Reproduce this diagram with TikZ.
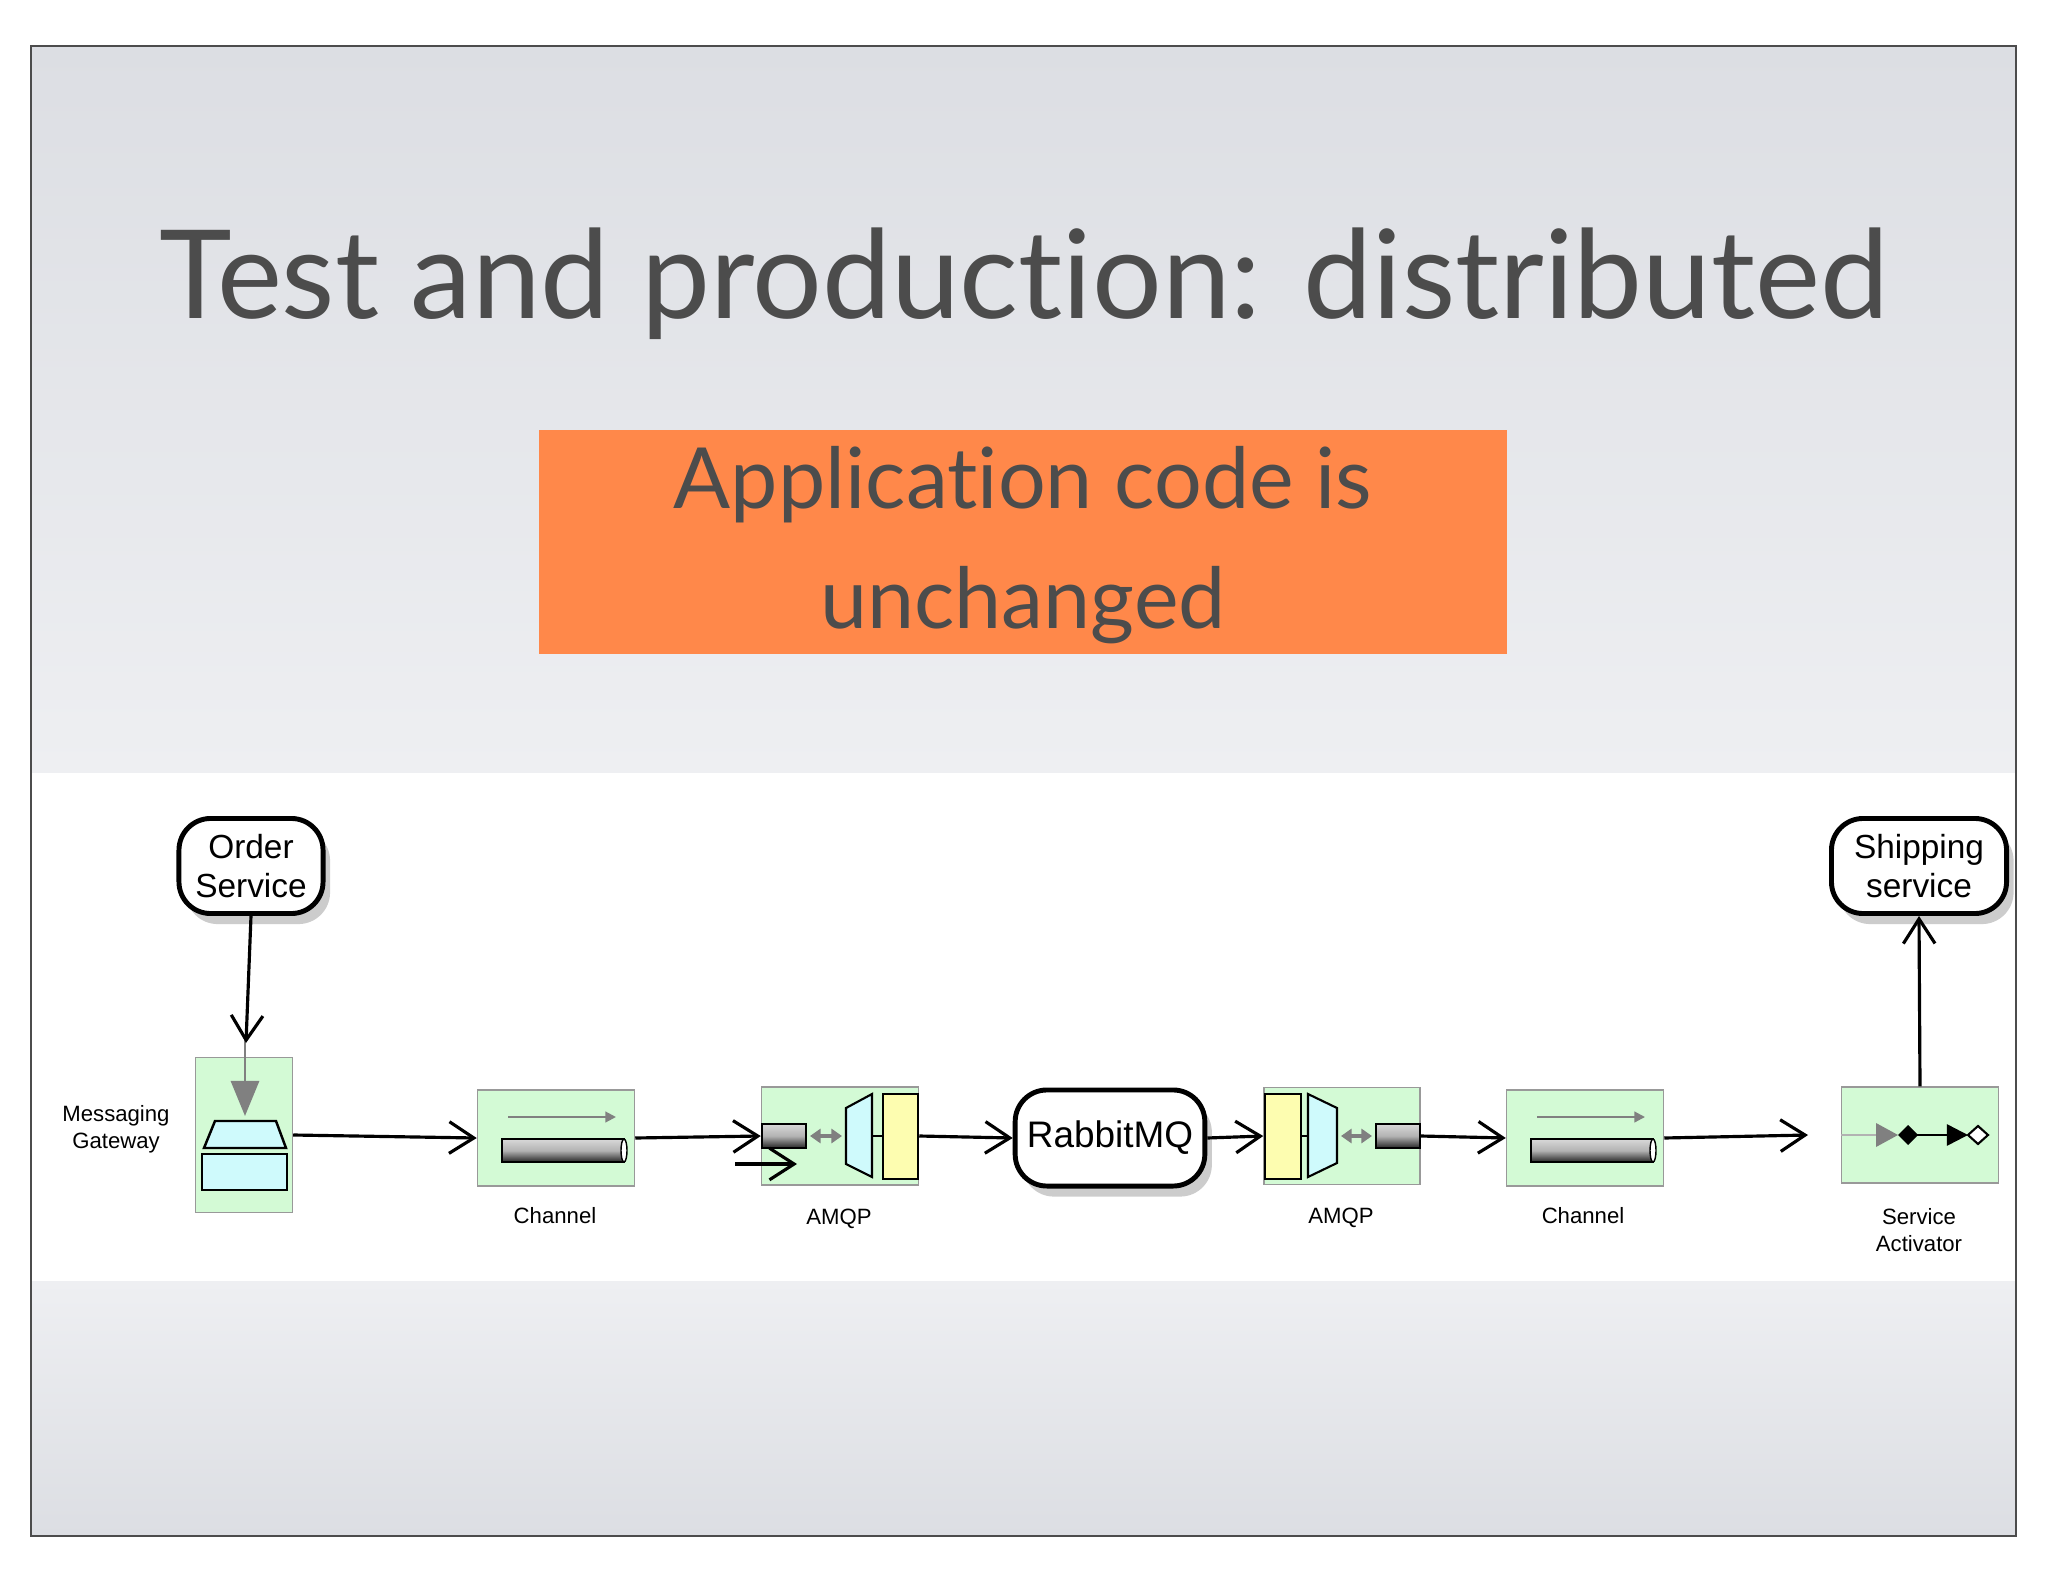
\documentclass[tikz,border=0pt]{standalone}
\usepackage{fontspec}
\setmainfont{Liberation Sans}
\newfontfamily\titlef[Ligatures={NoCommon,NoDiscretionary,NoRare}]{Lato}
\usetikzlibrary{arrows.meta,shadows,shapes.geometric}
\definecolor{bgtop}{HTML}{DCDEE3}
\definecolor{bgbot}{HTML}{EEEFF2}
\definecolor{orng}{HTML}{FF884A}
\definecolor{eipg}{HTML}{D3FAD5}
\definecolor{cyanl}{HTML}{CFFAFC}
\definecolor{yell}{HTML}{FDFDB0}
\begin{document}
\begin{tikzpicture}[x=0.01cm,y=-0.01cm,
  svc/.style={draw=black,line width=1.4pt,rounded corners=9pt,fill=white,align=center,font=\fontsize{9.5}{11}\selectfont,drop shadow={shadow xshift=2pt,shadow yshift=-3pt,opacity=0.4}},
  eip/.style={draw=black!40,fill=eipg,line width=0.4pt,inner sep=0pt},
  lbl/.style={font=\fontsize{6.3}{7.6}\selectfont,align=center},
  flow/.style={line width=0.9pt,-{Straight Barb[length=7pt,width=9pt,line width=0.9pt]}},
  garr/.style={gray,line width=0.6pt,-{Triangle[length=3pt,width=3pt]}},
  tube/.style={draw=black,line width=0.4pt,top color=gray!30,bottom color=black!85,middle color=gray!60}
]
\useasboundingbox (0,0) rectangle (2048,1582);
\fill[white] (0,0) rectangle (2048,1582);
\shade[top color=bgtop,bottom color=bgbot] (31,46) rectangle (2016,772);
\shade[top color=bgbot,bottom color=bgtop] (31,1281) rectangle (2016,1536);
\draw[black!70,line width=0.5pt] (31,46) rectangle (2016,1536);
\node[font=\titlef\fontsize{35}{40}\selectfont,text=black!70] (title) at (1024,284) {Test and production: distributed};
\fill[orng] (539,430) rectangle (1507,654);
\node[font=\titlef\fontsize{24}{34}\selectfont,text=black!70,align=center] (sub) at (1023,545) {Application code is\\unchanged};
% nodes
\node[svc,minimum width=1.44cm,minimum height=0.95cm] (os) at (251,866) {Order\\Service};
\node[svc,minimum width=1.75cm,minimum height=0.95cm] (ss) at (1919,866) {Shipping\\service};
\node[svc,minimum width=1.75cm,minimum height=0.96cm,font=\fontsize{10.5}{13}\selectfont] (rmq) at (1110,1138) {RabbitMQ};
\node[eip,minimum width=0.97cm,minimum height=1.55cm] (gw) at (244,1135) {};
\node[eip,minimum width=1.57cm,minimum height=0.96cm] (ch1) at (556,1138) {};
\node[eip,minimum width=1.57cm,minimum height=0.98cm] (am1) at (840,1136) {};
\node[eip,minimum width=1.56cm,minimum height=0.97cm] (am2) at (1342,1136) {};
\node[eip,minimum width=1.57cm,minimum height=0.96cm] (ch2) at (1585,1138) {};
\node[eip,minimum width=1.57cm,minimum height=0.96cm] (sa) at (1920,1135) {};
\node[lbl] (gwl) at (116,1129) {Messaging\\Gateway};
\node[lbl] (ch1l) at (555,1216) {Channel};
\node[lbl] (am1l) at (839,1219) {AMQP};
\node[lbl] (am2l) at (1341,1218) {AMQP};
\node[lbl] (ch2l) at (1583,1216) {Channel};
\node[lbl] (sal) at (1919,1230) {Service\\Activator};
% gateway icon
\draw[fill=cyanl,line width=0.7pt] (204,1148) -- (215,1121) -- (276,1121) -- (286,1148) -- cycle;
\draw[fill=cyanl,line width=0.7pt] (202,1154) rectangle (287,1190);
% channel icons
\foreach \cx in {556,1585}{
  \draw[garr] (\cx-48,1117) -- (\cx+60,1117);
  \draw[tube] (\cx-54,1139) rectangle (\cx+68,1162);
  \draw[fill=white,line width=0.4pt] (\cx+68,1150.5) ellipse (0.03cm and 0.115cm);
}
% amqp1 icon
\draw[tube] (762,1124) rectangle (806,1148);
\draw[gray,line width=1pt,{Triangle[length=3pt,width=4pt]}-{Triangle[length=3pt,width=4pt]}] (810,1136) -- (842,1136);
\draw[fill=cyanl,line width=0.6pt] (846,1108) -- (872,1094) -- (872,1177) -- (846,1164) -- cycle;
\draw[line width=0.6pt] (872,1136) -- (883,1136);
\draw[fill=yell,line width=0.6pt] (883,1094) rectangle (918,1179);
\draw[flow] (735,1164) -- (797,1164);
% amqp2 icon
\draw[fill=yell,line width=0.6pt] (1265,1094) rectangle (1301,1179);
\draw[line width=0.6pt] (1301,1136) -- (1308,1136);
\draw[fill=cyanl,line width=0.6pt] (1308,1094) -- (1337,1108) -- (1337,1163) -- (1308,1177) -- cycle;
\draw[gray,line width=1pt,{Triangle[length=3pt,width=4pt]}-{Triangle[length=3pt,width=4pt]}] (1341,1136) -- (1372,1136);
\draw[tube] (1376,1124) rectangle (1420,1148);
% service activator icon
\draw[gray!60,line width=0.6pt] (sa.west) -- (1884,1135);
\fill[gray] (1876,1123) -- (1898,1135) -- (1876,1147) -- cycle;
\draw[line width=0.7pt,-{Triangle[length=6pt,width=6pt]}] (1912,1135) -- (1968,1135);
\fill (1898,1135) -- (1908,1125) -- (1918,1135) -- (1908,1145) -- cycle;
\draw[fill=white,line width=0.6pt] (1968,1135) -- (1978,1126) -- (1988,1135) -- (1978,1144) -- cycle;
% connectors
\draw[gray,line width=0.8pt,-{Triangle[length=10pt,width=8pt]}] (245,1040) -- (245,1116);
\draw[flow] (os.south) -- (246,1043);
\draw[flow] (gw.east) -- (ch1.west);
\draw[flow] (ch1.east) -- (am1.west);
\draw[flow] (am1.east) -- (rmq.west);
\draw[flow] (rmq.east) -- (am2.west);
\draw[flow] (am2.east) -- (ch2.west);
\draw[flow] (ch2.east) -- (1808,1135);
\draw[flow] (sa.north) -- (ss.south);
\end{tikzpicture}
\end{document}
